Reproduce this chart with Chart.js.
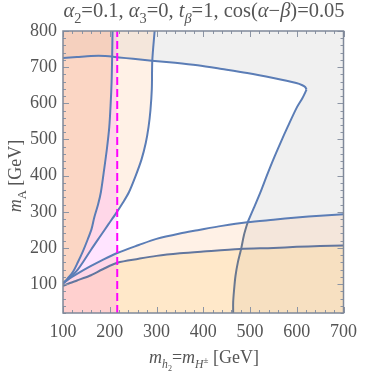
<!DOCTYPE html>
<html>
<head>
<meta charset="utf-8">
<script src="https://cdn.jsdelivr.net/npm/chart.js@4.4.1/dist/chart.umd.min.js"></script>
<style>
  html, body { margin: 0; padding: 0; background: #fff; }
</style>
</head>
<body>
<canvas id="chart" width="365" height="374"></canvas>
<script>
// axis setup
const xTicks = [100, 200, 300, 400, 500, 600, 700];
const yTicks = [100, 200, 300, 400, 500, 600, 700, 800];
const xMin = 100, xMax = 700, yMin = 20, yMax = 800;
const cutX = 216; // dashed magenta bound

// boundary curves as [m_h2, m_A]
const c1 = [[100,102],[110,116],[121,133],[132,161],[143,192],[153,224],[161,252],[167,285],[175,320],[181,354],[188,417],[194,475],[199,535],[202,600],[204,660],[205,720],[206,800]];
const c2 = [[100,102],[110,112],[120,124],[132,141],[143,161],[160,195],[180,233],[197,265],[213,295],[228,325],[241,354],[255,398],[268,445],[277,490],[283,535],[287,580],[290,640],[291,718],[296,800]];
const c3 = [[100,102],[115,116],[130,128],[157,148],[185,167],[216,186],[262,208],[300,225],[350,240],[388,249],[440,261],[494,271],[550,278],[600,284],[650,289],[700,293]];
const c4 = [[100,95],[115,103],[130,110],[157,123],[185,141],[216,159],[262,170],[300,178],[350,185],[400,190],[479,197],[550,200],[600,203],[650,205],[700,207]];
const topCurve = [[100,725],[130,728],[160,731],[190,731],[220,727],[250,723],[290,718],[340,712],[388,705],[440,695],[494,684],[550,670],[599,656],[612,650],[618,645],[621,638]];
const rightCurve = [[621,638],[612,614],[600,588],[581,536],[565,490],[550,445],[536,400],[522,353],[508,310],[495,271]];
const rightLow = [[495,271],[487,235],[481,197],[474,160],[469,123],[466,85],[464,50],[464,20]];

const pts = arr => arr.map(([x, y]) => ({x, y}));

// excluded regions as closed shapes
const regS = [...c1, [xMin, yMax]];
const regM = [[xMin, yMin], [cutX, yMin], [cutX, yMax], [xMin, yMax]];
const regP = [[xMin, yMax], ...c2.slice().reverse(), ...c3, [xMax, yMin], [xMin, yMin]];
const regY = [...c4, [xMax, yMin], [xMin, yMin]];
const regG = [[xMin, yMax], ...topCurve, ...rightCurve, ...rightLow, [xMax, yMin], [xMax, yMax]];

function region(data, color) {
  return { data: pts(data), fill: 'shape', backgroundColor: color, borderWidth: 0,
           pointRadius: 0, tension: 0, order: 10 };
}
function curve(data, color) {
  return { data: pts(data), fill: false, borderColor: color, borderWidth: 2,
           pointRadius: 0, tension: 0.3, order: 5 };
}

const serif = '"Liberation Serif", "Times New Roman", serif';
const textColor = '#555';

function richText(ctx, parts, x, y, size, rotate) {
  let w = 0;
  const items = parts.map(([t, it, sf, dy]) => {
    const f = (it ? 'italic ' : '') + (size * sf) + 'px ' + serif;
    ctx.font = f;
    const item = { t, f, x: w, dy: dy * size };
    w += ctx.measureText(t).width;
    return item;
  });
  ctx.save();
  ctx.translate(x, y);
  if (rotate) ctx.rotate(-Math.PI / 2);
  ctx.fillStyle = textColor;
  ctx.textBaseline = 'alphabetic';
  ctx.textAlign = 'left';
  items.forEach(it => { ctx.font = it.f; ctx.fillText(it.t, it.x - w / 2, it.dy); });
  ctx.restore();
}

const titleParts = [['α',1,1,0],['2',0,.7,.3],['=0.1, ',0,1,0],['α',1,1,0],['3',0,.7,.3],['=0, ',0,1,0],
  ['t',1,1,0],['β',1,.7,.3],['=1, cos(',0,1,0],['α',1,1,0],['−',0,1,0],['β',1,1,0],[')=0.05',0,1,0]];
const xTitleParts = [['m',1,1,0],['h',1,.65,.3],['2',0,.45,.45],['=',0,1,0],['m',1,1,0],['H',1,.65,.3],['±',0,.5,-.02],[' [GeV]',0,1,0]];
const yTitleParts = [['m',1,1,0],['A',0,.7,.3],[' [GeV]',0,1,0]];

const framePlugin = {
  id: 'framePlugin',
  afterDatasetsDraw(chart) {
    const {ctx, chartArea: a, scales: {x, y}} = chart;
    ctx.save();
    ctx.strokeStyle = '#8c95a5';
    ctx.lineWidth = 1;
    ctx.beginPath();
    for (let v = xMin; v <= xMax; v += 20) {
      const p = Math.round(x.getPixelForValue(v)) + 0.5;
      const len = v % 100 === 0 ? 6 : 3;
      ctx.moveTo(p, a.bottom); ctx.lineTo(p, a.bottom - len);
      ctx.moveTo(p, a.top); ctx.lineTo(p, a.top + len);
    }
    for (let v = yMin; v <= yMax; v += 20) {
      const p = Math.round(y.getPixelForValue(v)) + 0.5;
      const len = v % 100 === 0 ? 6 : 3;
      ctx.moveTo(a.left, p); ctx.lineTo(a.left + len, p);
      ctx.moveTo(a.right, p); ctx.lineTo(a.right - len, p);
    }
    ctx.stroke();
    ctx.strokeStyle = '#7f8899';
    ctx.lineWidth = 1.5;
    ctx.strokeRect(a.left, a.top, a.right - a.left, a.bottom - a.top);
    ctx.restore();
  },
  afterDraw(chart) {
    const {ctx, chartArea: a} = chart;
    richText(ctx, titleParts, 204, 17, 20.5, false);
    richText(ctx, xTitleParts, 204, 363, 18, false);
    richText(ctx, yTitleParts, 21, 176, 18, true);
  }
};

new Chart(document.getElementById('chart'), {
  type: 'line',
  data: {
    datasets: [
      region(regS, 'rgba(240,212,100,0.27)'),
      region(regM, 'rgba(255,0,255,0.105)'),
      region(regP, 'rgba(255,190,140,0.22)'),
      region(regY, 'rgba(255,210,110,0.25)'),
      region(regG, 'rgba(0,0,0,0.06)'),
      curve(c1, '#5b7db6'),
      curve(c2, '#5b7db6'),
      curve(c3, '#5b7db6'),
      curve(c4, '#62769e'),
      curve(topCurve, '#5b7db6'),
      curve(rightCurve, '#5b7db6'),
      curve(rightLow, '#6a7890'),
      { data: pts([[cutX, yMin], [cutX, yMax]]), borderColor: '#ff00ff', borderWidth: 2,
        borderDash: [8, 4], pointRadius: 0, fill: false, order: 1 }
    ]
  },
  options: {
    responsive: false,
    animation: false,
    events: [],
    layout: { padding: { top: 31, right: 17, left: 0, bottom: 0 } },
    plugins: { legend: { display: false }, tooltip: { enabled: false }, title: { display: false } },
    scales: {
      x: {
        type: 'linear', min: xMin, max: xMax,
        grid: { display: false, drawTicks: false },
        border: { display: false },
        afterBuildTicks: s => { s.ticks = xTicks.map(v => ({ value: v })); },
        afterFit: s => { s.height = 61; },
        ticks: { padding: 8, color: textColor, font: { family: serif, size: 18 }, maxRotation: 0,
                 callback: v => String(v) }
      },
      y: {
        type: 'linear', min: yMin, max: yMax,
        grid: { display: false, drawTicks: false },
        border: { display: false },
        afterBuildTicks: s => { s.ticks = yTicks.map(v => ({ value: v })); },
        afterFit: s => { s.width = 63; },
        ticks: { padding: 6, color: textColor, font: { family: serif, size: 18 },
                 callback: v => String(v) }
      }
    }
  },
  plugins: [framePlugin]
});
</script>
</body>
</html>
